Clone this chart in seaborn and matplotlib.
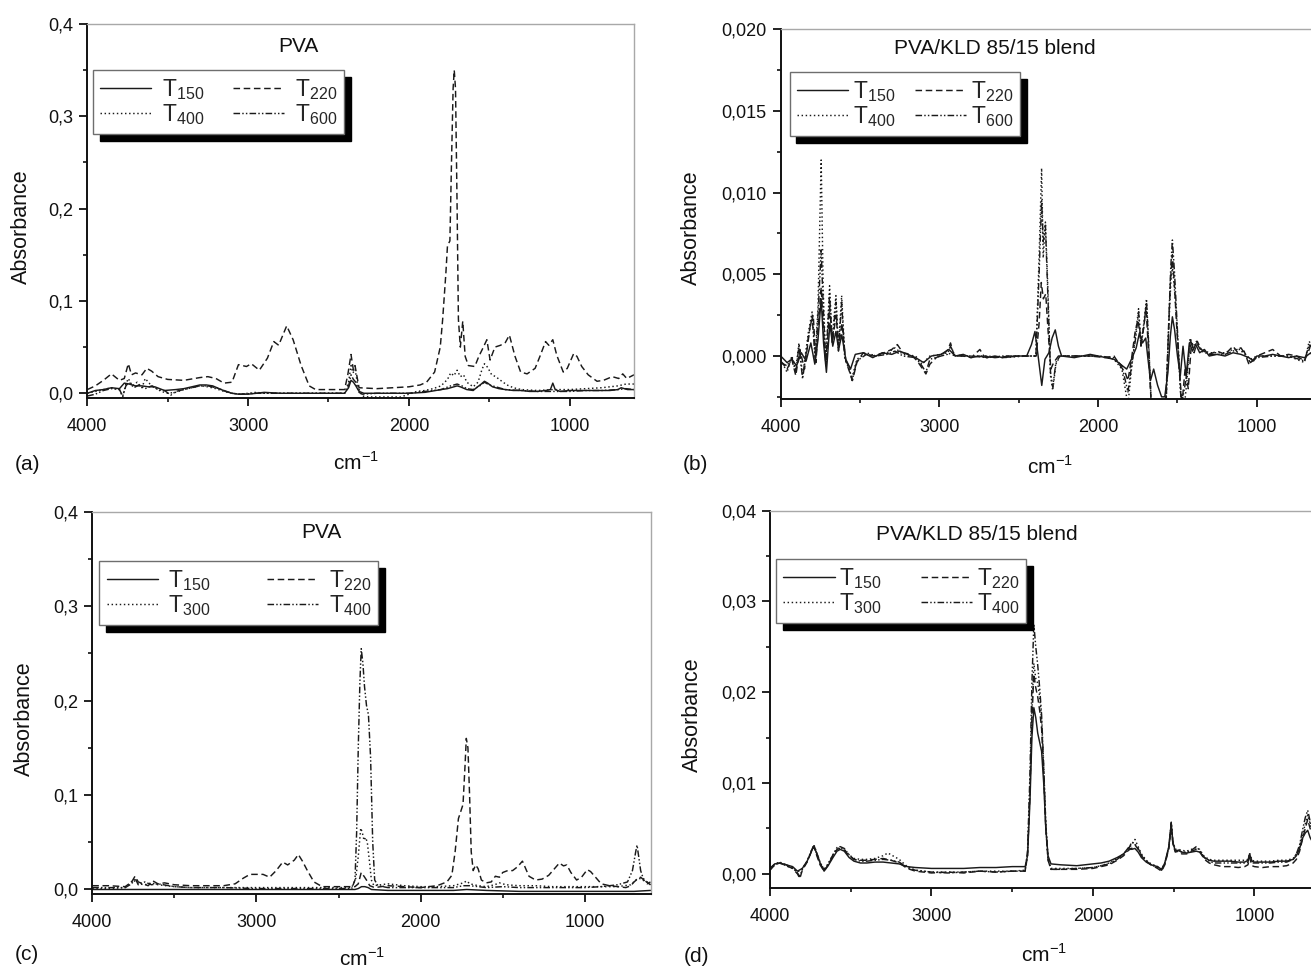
import matplotlib
matplotlib.use("Agg")
import matplotlib.pyplot as plt
import seaborn as sns
import pandas as pd
from matplotlib.ticker import FuncFormatter, MultipleLocator

# ---------------- data (cm-1, absorbance) ----------------
A_T150 = [(4000,0.000),(3950,0.003),(3900,0.004),(3850,0.006),(3800,0.005),(3770,0.011),(3740,0.010),(3700,0.008),(3660,0.008),(3620,0.007),(3580,0.007),(3520,0.003),(3450,0.004),(3400,0.005),(3350,0.007),(3300,0.009),(3260,0.009),(3220,0.008),(3180,0.005),(3140,0.002),(3100,0.000),(3060,-0.001),(3000,-0.001),(2950,0.000),(2900,0.001),(2800,0.000),(2600,0.000),(2400,0.000),(2375,0.006),(2360,0.014),(2345,0.012),(2330,0.008),(2310,0.002),(2280,0.000),(2200,0.000),(2000,0.000),(1900,0.001),(1800,0.004),(1760,0.005),(1720,0.007),(1700,0.008),(1680,0.007),(1640,0.004),(1600,0.003),(1580,0.006),(1550,0.010),(1530,0.013),(1510,0.011),(1480,0.007),(1440,0.005),(1400,0.004),(1350,0.003),(1300,0.003),(1250,0.002),(1200,0.002),(1150,0.003),(1120,0.004),(1105,0.011),(1090,0.004),(1060,0.002),(1000,0.003),(950,0.003),(900,0.003),(850,0.003),(800,0.003),(750,0.003),(700,0.004),(680,0.006),(660,0.005),(640,0.004),(620,0.004),(600,0.004)]
A_T220 = [(4000,0.004),(3950,0.008),(3900,0.014),(3850,0.021),(3800,0.014),(3770,0.016),(3745,0.032),(3725,0.020),(3700,0.022),(3660,0.020),(3630,0.027),(3600,0.024),(3560,0.018),(3500,0.015),(3400,0.014),(3300,0.017),(3250,0.018),(3200,0.016),(3150,0.011),(3100,0.012),(3060,0.031),(3010,0.029),(2980,0.032),(2930,0.025),(2880,0.038),(2840,0.056),(2810,0.052),(2760,0.073),(2720,0.058),(2670,0.030),(2620,0.008),(2580,0.004),(2400,0.004),(2380,0.020),(2360,0.042),(2345,0.025),(2335,0.030),(2310,0.006),(2200,0.005),(2000,0.007),(1930,0.009),(1890,0.012),(1840,0.023),(1805,0.050),(1790,0.080),(1770,0.130),(1760,0.160),(1745,0.165),(1735,0.250),(1725,0.330),(1718,0.350),(1710,0.330),(1700,0.200),(1692,0.080),(1680,0.050),(1665,0.078),(1650,0.040),(1630,0.030),(1590,0.029),(1565,0.040),(1545,0.047),(1515,0.058),(1495,0.036),(1465,0.050),(1430,0.052),(1400,0.055),(1375,0.063),(1340,0.040),(1305,0.023),(1265,0.021),(1215,0.027),(1185,0.040),(1150,0.056),(1130,0.052),(1105,0.058),(1080,0.041),(1040,0.023),(1015,0.027),(975,0.043),(955,0.040),(925,0.029),(885,0.020),(830,0.013),(790,0.014),(735,0.018),(695,0.016),(670,0.021),(645,0.016),(600,0.020)]
A_T400 = [(4000,0.000),(3950,0.002),(3900,0.004),(3850,0.006),(3800,0.004),(3780,-0.004),(3760,0.010),(3745,0.016),(3720,0.008),(3690,0.012),(3660,0.006),(3640,0.016),(3610,0.010),(3580,0.006),(3540,0.002),(3500,0.000),(3450,0.001),(3400,0.004),(3350,0.006),(3300,0.008),(3250,0.007),(3200,0.005),(3150,0.002),(3100,0.000),(3050,-0.001),(2950,0.001),(2900,0.000),(2600,0.000),(2400,0.000),(2375,0.012),(2360,0.030),(2348,0.022),(2335,0.026),(2315,0.006),(2290,-0.003),(2250,-0.004),(2150,-0.004),(2050,-0.004),(2000,-0.001),(1950,0.002),(1900,0.003),(1850,0.005),(1800,0.008),(1760,0.015),(1740,0.022),(1720,0.019),(1700,0.025),(1680,0.018),(1660,0.020),(1640,0.012),(1600,0.007),(1570,0.012),(1545,0.026),(1530,0.032),(1510,0.028),(1485,0.020),(1460,0.018),(1430,0.014),(1390,0.009),(1350,0.006),(1300,0.004),(1200,0.003),(1100,0.004),(1000,0.004),(900,0.005),(800,0.006),(700,0.008),(650,0.010),(600,0.010)]
A_T600 = [(4000,-0.003),(3950,-0.001),(3900,0.003),(3850,0.005),(3800,0.004),(3780,-0.003),(3760,0.008),(3740,0.012),(3710,0.006),(3680,0.009),(3640,0.005),(3600,0.008),(3560,0.004),(3520,0.003),(3480,-0.002),(3450,0.002),(3400,0.004),(3300,0.008),(3250,0.008),(3200,0.006),(3150,0.003),(3100,0.000),(3050,-0.001),(2950,0.000),(2600,0.000),(2400,0.000),(2375,0.008),(2360,0.020),(2345,0.015),(2330,0.012),(2310,0.001),(2290,-0.001),(2200,0.000),(2000,0.000),(1900,0.002),(1800,0.004),(1740,0.008),(1700,0.010),(1670,0.008),(1640,0.005),(1600,0.004),(1560,0.008),(1530,0.012),(1500,0.009),(1460,0.007),(1400,0.004),(1300,0.003),(1200,0.002),(1100,0.002),(1000,0.002),(900,0.003),(800,0.003),(700,0.004),(650,0.005),(600,0.004)]

B_T150 = [(4000,0.0),(3960,-0.0004),(3930,-0.0002),(3900,-0.0006),(3870,0.0002),(3840,-0.0003),(3810,0.0008),(3785,-0.0005),(3765,0.0010),(3745,0.0035),(3730,0.0008),(3712,-0.0010),(3690,0.0020),(3672,0.0006),(3652,0.0015),(3635,0.0004),(3615,0.0013),(3590,-0.0002),(3560,-0.0008),(3530,0.0001),(3480,0.0002),(3420,-0.0001),(3360,0.0002),(3300,0.0001),(3250,0.0003),(3200,0.0001),(3150,-0.0001),(3100,-0.0004),(3050,0.0000),(2990,0.0001),(2940,0.0004),(2900,0.0000),(2850,0.0001),(2800,-0.0001),(2750,0.0000),(2700,-0.0001),(2650,0.0000),(2600,-0.0001),(2500,0.0000),(2450,0.0000),(2420,0.0007),(2398,0.0015),(2378,0.0000),(2355,-0.0018),(2335,-0.0002),(2310,0.0002),(2290,0.0011),(2270,0.0016),(2250,0.0006),(2230,0.0000),(2150,-0.0001),(2100,0.0000),(2050,0.0001),(2000,0.0000),(1950,-0.0001),(1900,-0.0002),(1860,-0.0005),(1820,-0.0008),(1790,-0.0002),(1760,0.0005),(1740,0.0014),(1720,0.0008),(1700,0.0011),(1688,0.0000),(1670,-0.0015),(1650,-0.0008),(1625,-0.0018),(1600,-0.0025),(1580,-0.0025),(1560,-0.0010),(1545,0.0012),(1532,0.0024),(1518,0.0016),(1500,0.0000),(1482,-0.0012),(1465,0.0006),(1445,-0.0012),(1425,0.0008),(1405,0.0003),(1385,0.0007),(1360,0.0002),(1330,0.0004),(1300,0.0000),(1250,0.0001),(1200,0.0000),(1150,0.0002),(1100,0.0001),(1050,-0.0001),(1020,-0.0003),(1000,0.0000),(950,0.0000),(900,0.0001),(850,0.0000),(800,-0.0001),(750,0.0000),(700,-0.0001),(660,0.0002),(640,-0.0002),(620,0.0000),(600,0.0000)]
B_T220 = [(4000,-0.0003),(3960,-0.0008),(3930,-0.0002),(3905,-0.0012),(3880,0.0004),(3850,-0.0008),(3815,0.0018),(3795,0.0025),(3778,-0.0004),(3762,0.0020),(3745,0.0042),(3730,0.0015),(3714,-0.0006),(3692,0.0030),(3674,0.0008),(3652,0.0025),(3634,0.0006),(3614,0.0020),(3590,-0.0003),(3565,-0.0010),(3548,-0.0015),(3520,-0.0004),(3480,0.0002),(3420,0.0000),(3350,0.0002),(3300,0.0004),(3265,0.0007),(3230,0.0002),(3180,0.0001),(3140,-0.0003),(3105,-0.0008),(3085,-0.0011),(3060,-0.0005),(3020,-0.0001),(2980,0.0001),(2945,0.0004),(2930,0.0008),(2910,0.0001),(2850,0.0000),(2800,-0.0001),(2745,0.0004),(2720,0.0000),(2650,-0.0001),(2550,0.0000),(2450,0.0000),(2390,0.0000),(2372,0.0020),(2358,0.0045),(2345,0.0035),(2330,0.0038),(2315,0.0015),(2298,-0.0008),(2280,-0.0004),(2250,0.0000),(2150,0.0000),(2050,0.0000),(1950,-0.0001),(1900,0.0000),(1860,-0.0006),(1830,-0.0010),(1812,-0.0015),(1790,-0.0002),(1765,0.0016),(1748,0.0022),(1730,0.0008),(1712,0.0018),(1698,0.0030),(1682,0.0002),(1665,-0.0030),(1620,-0.0030),(1575,-0.0030),(1558,0.0010),(1545,0.0045),(1532,0.0062),(1520,0.0045),(1505,0.0018),(1490,-0.0005),(1472,-0.0030),(1452,-0.0008),(1432,-0.0020),(1412,0.0008),(1395,0.0002),(1375,0.0009),(1350,0.0004),(1300,0.0001),(1250,0.0003),(1200,0.0001),(1150,0.0006),(1120,0.0002),(1080,0.0003),(1050,-0.0005),(1020,-0.0002),(1000,0.0000),(950,0.0002),(900,0.0004),(850,0.0000),(800,0.0001),(750,0.0000),(700,-0.0003),(670,0.0004),(660,0.0008),(640,-0.0003),(620,0.0000),(600,0.0001)]
B_T400 = [(4000,-0.0002),(3960,-0.0010),(3930,0.0000),(3905,-0.0008),(3885,0.0008),(3862,-0.0012),(3825,0.0015),(3802,0.0027),(3782,0.0000),(3765,0.0030),(3745,0.0120),(3732,0.0040),(3716,-0.0006),(3692,0.0043),(3676,0.0010),(3652,0.0037),(3636,0.0005),(3616,0.0037),(3596,0.0000),(3572,-0.0008),(3550,-0.0013),(3520,-0.0002),(3460,0.0002),(3400,0.0000),(3330,0.0002),(3280,0.0005),(3230,0.0001),(3150,0.0000),(3110,-0.0005),(3060,0.0000),(2990,0.0001),(2950,0.0002),(2900,0.0000),(2800,0.0000),(2700,0.0000),(2600,-0.0001),(2450,0.0000),(2392,0.0000),(2372,0.0060),(2356,0.0115),(2346,0.0060),(2332,0.0082),(2316,0.0040),(2300,-0.0012),(2286,-0.0021),(2266,-0.0005),(2240,0.0000),(2100,0.0000),(2000,0.0000),(1900,-0.0002),(1850,-0.0008),(1812,-0.0030),(1792,-0.0010),(1762,0.0015),(1745,0.0029),(1730,0.0008),(1712,0.0020),(1695,0.0035),(1680,0.0005),(1665,-0.0030),(1600,-0.0030),(1572,-0.0030),(1556,0.0015),(1542,0.0045),(1532,0.0055),(1518,0.0040),(1505,0.0022),(1490,-0.0005),(1476,-0.0030),(1456,-0.0030),(1440,-0.0015),(1420,0.0011),(1400,0.0006),(1380,0.0009),(1350,0.0004),(1300,0.0002),(1200,0.0002),(1150,0.0004),(1100,0.0004),(1040,-0.0002),(1000,0.0000),(900,0.0000),(800,0.0000),(700,-0.0004),(670,0.0009),(650,0.0005),(620,0.0000),(600,0.0000)]
B_T600 = [(4000,-0.0004),(3960,-0.0006),(3930,-0.0001),(3905,-0.0010),(3885,0.0006),(3862,-0.0014),(3825,0.0012),(3802,0.0024),(3782,-0.0003),(3765,0.0025),(3745,0.0065),(3732,0.0030),(3716,-0.0004),(3692,0.0038),(3676,0.0008),(3652,0.0033),(3636,0.0003),(3616,0.0033),(3596,-0.0002),(3572,-0.0006),(3550,-0.0015),(3520,-0.0003),(3460,0.0001),(3400,0.0000),(3330,0.0001),(3280,0.0003),(3230,0.0000),(3150,-0.0001),(3110,-0.0006),(3085,-0.0010),(3060,-0.0002),(2990,0.0000),(2950,0.0001),(2930,0.0006),(2900,0.0000),(2800,0.0000),(2700,-0.0001),(2600,0.0000),(2450,0.0000),(2392,0.0000),(2372,0.0050),(2356,0.0095),(2346,0.0070),(2332,0.0080),(2316,0.0035),(2300,-0.0010),(2286,-0.0019),(2266,-0.0004),(2240,0.0000),(2100,0.0000),(2000,0.0000),(1900,-0.0001),(1850,-0.0006),(1812,-0.0022),(1792,-0.0008),(1762,0.0012),(1745,0.0027),(1730,0.0006),(1712,0.0018),(1695,0.0033),(1680,0.0004),(1665,-0.0030),(1600,-0.0030),(1572,-0.0030),(1556,0.0018),(1542,0.0055),(1532,0.0071),(1518,0.0050),(1505,0.0025),(1490,-0.0004),(1476,-0.0030),(1456,-0.0020),(1440,-0.0010),(1420,0.0010),(1400,0.0005),(1380,0.0008),(1350,0.0003),(1300,0.0001),(1200,0.0001),(1150,0.0003),(1100,0.0005),(1040,-0.0004),(1000,-0.0001),(900,0.0000),(800,0.0000),(700,-0.0003),(670,0.0007),(650,0.0004),(620,0.0000),(600,0.0000)]

C_T150 = [(4000,0.000),(3800,0.000),(3600,0.000),(3400,0.000),(3200,0.000),(3000,0.000),(2800,0.000),(2600,0.000),(2400,0.000),(2380,0.001),(2360,0.003),(2340,0.003),(2320,0.002),(2300,0.000),(2200,-0.001),(2000,-0.001),(1800,-0.001),(1720,0.000),(1600,-0.001),(1400,-0.002),(1200,-0.002),(1000,-0.002),(800,-0.002),(700,-0.002),(600,-0.001)]
C_T220 = [(4000,0.004),(3900,0.004),(3800,0.003),(3760,0.008),(3740,0.014),(3720,0.008),(3690,0.006),(3660,0.004),(3630,0.009),(3600,0.006),(3560,0.007),(3500,0.005),(3400,0.004),(3300,0.004),(3200,0.004),(3130,0.006),(3080,0.012),(3040,0.016),(3000,0.016),(2960,0.016),(2920,0.013),(2880,0.020),(2840,0.029),(2810,0.026),(2770,0.031),(2745,0.037),(2720,0.030),(2690,0.020),(2650,0.008),(2600,0.003),(2500,0.003),(2400,0.003),(2380,0.006),(2362,0.018),(2345,0.014),(2330,0.010),(2310,0.004),(2280,0.002),(2200,0.004),(2100,0.003),(2000,0.002),(1900,0.004),(1840,0.008),(1810,0.015),(1790,0.040),(1770,0.075),(1755,0.083),(1742,0.090),(1730,0.130),(1722,0.160),(1712,0.150),(1702,0.100),(1692,0.040),(1680,0.020),(1665,0.026),(1650,0.022),(1630,0.010),(1600,0.007),(1570,0.008),(1545,0.014),(1520,0.013),(1500,0.018),(1470,0.020),(1440,0.020),(1410,0.024),(1380,0.030),(1360,0.022),(1340,0.014),(1300,0.010),(1260,0.011),(1220,0.015),(1185,0.022),(1155,0.028),(1130,0.025),(1110,0.026),(1085,0.018),(1050,0.010),(1020,0.013),(985,0.021),(965,0.019),(930,0.012),(900,0.006),(850,0.004),(800,0.003),(750,0.002),(720,0.004),(700,0.008),(680,0.011),(660,0.013),(640,0.010),(620,0.006),(600,0.008)]
C_T300 = [(4000,0.001),(3900,0.001),(3800,0.002),(3750,0.010),(3720,0.006),(3680,0.005),(3640,0.007),(3600,0.005),(3500,0.003),(3400,0.002),(3200,0.002),(3000,0.002),(2800,0.002),(2600,0.002),(2420,0.002),(2395,0.012),(2380,0.035),(2365,0.065),(2355,0.060),(2345,0.052),(2335,0.055),(2325,0.050),(2312,0.030),(2300,0.010),(2285,0.004),(2200,0.006),(2100,0.004),(2000,0.003),(1900,0.003),(1800,0.004),(1760,0.006),(1740,0.007),(1720,0.009),(1700,0.006),(1650,0.004),(1600,0.003),(1550,0.005),(1520,0.007),(1480,0.005),(1400,0.004),(1300,0.004),(1200,0.003),(1100,0.003),(1000,0.003),(900,0.003),(800,0.003),(720,0.005),(690,0.010),(670,0.012),(650,0.010),(620,0.008),(600,0.005)]
C_T400 = [(4000,0.002),(3900,0.002),(3800,0.002),(3760,0.006),(3740,0.012),(3720,0.005),(3680,0.008),(3640,0.005),(3600,0.006),(3500,0.003),(3400,0.002),(3200,0.002),(3000,0.001),(2800,0.001),(2600,0.001),(2420,0.001),(2400,0.010),(2390,0.060),(2380,0.150),(2370,0.220),(2362,0.255),(2352,0.240),(2342,0.215),(2330,0.195),(2318,0.185),(2305,0.140),(2292,0.050),(2280,0.010),(2260,0.004),(2200,0.002),(2100,0.002),(2000,0.002),(1900,0.002),(1800,0.002),(1740,0.004),(1700,0.004),(1600,0.002),(1500,0.003),(1400,0.002),(1200,0.002),(1000,0.002),(900,0.003),(800,0.005),(740,0.008),(710,0.020),(690,0.040),(682,0.047),(672,0.035),(660,0.020),(645,0.012),(625,0.008),(600,0.005)]

D_T150 = [(4000,0.0006),(3970,0.0011),(3940,0.0012),(3900,0.0010),(3860,0.0008),(3830,0.0003),(3800,0.0006),(3770,0.0014),(3745,0.0024),(3728,0.0031),(3710,0.0022),(3690,0.0012),(3665,0.0003),(3640,0.0009),(3610,0.0018),(3585,0.0025),(3565,0.0027),(3540,0.0025),(3510,0.0018),(3480,0.0014),(3440,0.0012),(3400,0.0012),(3350,0.0013),(3300,0.0013),(3250,0.0012),(3200,0.0011),(3150,0.0008),(3100,0.0007),(3000,0.0006),(2900,0.0006),(2800,0.0006),(2700,0.0007),(2600,0.0007),(2500,0.0008),(2420,0.0008),(2405,0.0020),(2390,0.0080),(2378,0.0150),(2366,0.0183),(2354,0.0172),(2342,0.0155),(2330,0.0145),(2318,0.0135),(2305,0.0100),(2292,0.0050),(2278,0.0020),(2260,0.0011),(2200,0.0010),(2100,0.0009),(2000,0.0011),(1950,0.0012),(1900,0.0014),(1850,0.0018),(1810,0.0022),(1780,0.0029),(1760,0.0027),(1740,0.0028),(1720,0.0024),(1700,0.0018),(1670,0.0013),(1640,0.0010),(1600,0.0008),(1575,0.0005),(1555,0.0012),(1530,0.0030),(1515,0.0055),(1505,0.0035),(1490,0.0025),(1470,0.0026),(1450,0.0024),(1420,0.0023),(1390,0.0024),(1360,0.0025),(1340,0.0024),(1310,0.0018),(1280,0.0015),(1250,0.0014),(1200,0.0014),(1150,0.0014),(1100,0.0013),(1060,0.0013),(1040,0.0015),(1030,0.0022),(1015,0.0014),(1000,0.0013),(950,0.0013),(900,0.0013),(850,0.0014),(800,0.0014),(760,0.0016),(740,0.0020),(720,0.0028),(700,0.0040),(685,0.0045),(670,0.0048),(655,0.0040),(640,0.0035),(620,0.0030),(600,0.0028)]
D_T220 = [(4000,0.0004),(3970,0.0010),(3940,0.0012),(3900,0.0009),(3860,0.0006),(3830,0.0000),(3815,-0.0005),(3800,0.0004),(3770,0.0013),(3745,0.0024),(3728,0.0030),(3710,0.0020),(3690,0.0010),(3665,0.0003),(3640,0.0010),(3610,0.0020),(3585,0.0027),(3565,0.0028),(3540,0.0026),(3510,0.0020),(3480,0.0016),(3440,0.0015),(3400,0.0015),(3350,0.0016),(3300,0.0017),(3250,0.0015),(3200,0.0012),(3150,0.0006),(3100,0.0003),(3000,0.0001),(2900,0.0002),(2800,0.0001),(2700,0.0003),(2600,0.0002),(2500,0.0003),(2420,0.0003),(2405,0.0020),(2390,0.0090),(2378,0.0170),(2366,0.0220),(2354,0.0205),(2342,0.0195),(2330,0.0180),(2318,0.0160),(2305,0.0110),(2292,0.0050),(2278,0.0015),(2260,0.0005),(2200,0.0005),(2100,0.0005),(2000,0.0006),(1950,0.0008),(1900,0.0010),(1850,0.0015),(1810,0.0020),(1780,0.0026),(1760,0.0028),(1740,0.0032),(1720,0.0027),(1700,0.0020),(1670,0.0014),(1640,0.0010),(1600,0.0006),(1575,0.0003),(1555,0.0010),(1530,0.0028),(1515,0.0055),(1505,0.0033),(1490,0.0024),(1470,0.0025),(1450,0.0022),(1420,0.0022),(1390,0.0025),(1360,0.0027),(1340,0.0025),(1310,0.0016),(1280,0.0012),(1250,0.0010),(1200,0.0008),(1150,0.0008),(1100,0.0007),(1060,0.0008),(1040,0.0010),(1030,0.0018),(1015,0.0009),(1000,0.0008),(950,0.0007),(900,0.0008),(850,0.0008),(800,0.0009),(760,0.0012),(740,0.0016),(720,0.0025),(700,0.0040),(685,0.0050),(670,0.0060),(655,0.0050),(640,0.0042),(620,0.0035),(600,0.0030)]
D_T300 = [(4000,0.0005),(3970,0.0010),(3940,0.0012),(3900,0.0009),(3860,0.0006),(3830,0.0002),(3800,0.0006),(3770,0.0014),(3745,0.0025),(3728,0.0031),(3710,0.0022),(3690,0.0012),(3665,0.0005),(3640,0.0011),(3610,0.0021),(3585,0.0028),(3565,0.0029),(3540,0.0027),(3510,0.0021),(3480,0.0017),(3440,0.0016),(3400,0.0016),(3350,0.0017),(3300,0.0020),(3270,0.0023),(3240,0.0020),(3200,0.0016),(3150,0.0008),(3100,0.0004),(3000,0.0002),(2900,0.0002),(2800,0.0002),(2700,0.0003),(2600,0.0003),(2500,0.0003),(2420,0.0004),(2405,0.0022),(2390,0.0095),(2378,0.0180),(2366,0.0232),(2354,0.0215),(2342,0.0210),(2330,0.0195),(2318,0.0170),(2305,0.0115),(2292,0.0055),(2278,0.0016),(2260,0.0006),(2200,0.0006),(2100,0.0006),(2000,0.0007),(1950,0.0009),(1900,0.0012),(1850,0.0017),(1810,0.0022),(1780,0.0028),(1760,0.0032),(1740,0.0038),(1720,0.0030),(1700,0.0022),(1670,0.0015),(1640,0.0011),(1600,0.0008),(1575,0.0005),(1555,0.0012),(1530,0.0030),(1515,0.0057),(1505,0.0036),(1490,0.0027),(1470,0.0027),(1450,0.0026),(1420,0.0025),(1390,0.0027),(1360,0.0029),(1340,0.0027),(1310,0.0019),(1280,0.0016),(1250,0.0015),(1200,0.0015),(1150,0.0015),(1100,0.0015),(1060,0.0015),(1040,0.0016),(1030,0.0023),(1015,0.0015),(1000,0.0014),(950,0.0014),(900,0.0014),(850,0.0015),(800,0.0015),(760,0.0017),(740,0.0022),(720,0.0030),(700,0.0045),(685,0.0055),(670,0.0065),(655,0.0055),(640,0.0045),(620,0.0038),(600,0.0032)]
D_T400 = [(4000,0.0006),(3970,0.0011),(3940,0.0013),(3900,0.0010),(3860,0.0007),(3830,0.0001),(3815,-0.0003),(3800,0.0005),(3770,0.0014),(3745,0.0025),(3728,0.0032),(3710,0.0023),(3690,0.0013),(3665,0.0004),(3640,0.0011),(3610,0.0021),(3585,0.0029),(3565,0.0030),(3540,0.0028),(3510,0.0021),(3480,0.0016),(3440,0.0014),(3400,0.0014),(3350,0.0015),(3300,0.0016),(3250,0.0015),(3200,0.0013),(3150,0.0007),(3100,0.0004),(3000,0.0002),(2900,0.0001),(2800,0.0002),(2700,0.0003),(2600,0.0002),(2500,0.0003),(2420,0.0003),(2405,0.0025),(2390,0.0110),(2378,0.0210),(2366,0.0275),(2354,0.0250),(2342,0.0230),(2330,0.0205),(2318,0.0175),(2305,0.0120),(2292,0.0055),(2278,0.0016),(2260,0.0005),(2200,0.0005),(2100,0.0006),(2000,0.0007),(1950,0.0009),(1900,0.0011),(1850,0.0016),(1810,0.0022),(1780,0.0027),(1760,0.0035),(1740,0.0033),(1720,0.0028),(1700,0.0021),(1670,0.0014),(1640,0.0010),(1600,0.0007),(1575,0.0004),(1555,0.0011),(1530,0.0029),(1515,0.0056),(1505,0.0034),(1490,0.0025),(1470,0.0026),(1450,0.0024),(1420,0.0024),(1390,0.0026),(1360,0.0030),(1340,0.0026),(1310,0.0018),(1280,0.0014),(1250,0.0012),(1200,0.0012),(1150,0.0012),(1100,0.0012),(1060,0.0012),(1040,0.0013),(1030,0.0020),(1015,0.0012),(1000,0.0012),(950,0.0012),(900,0.0012),(850,0.0013),(800,0.0013),(760,0.0016),(740,0.0022),(720,0.0032),(700,0.0050),(685,0.0062),(670,0.0070),(655,0.0058),(640,0.0048),(620,0.0040),(600,0.0035)]

LABELS_AB = ["150", "220", "400", "600"]
LABELS_CD = ["150", "220", "300", "400"]
TITLES = ["PVA", "PVA/KLD 85/15 blend", "PVA", "PVA/KLD 85/15 blend"]
LETTERS = ["(a)", "(b)", "(c)", "(d)"]
X_TICKS = [4000, 3000, 2000, 1000]

# ---------------- style ----------------
W, H = 1311, 968
LINE = "#1a1a1a"
DASHES = ["-", (0, (4.5, 2.5)), (0, (1, 1.8)), (0, (4.5, 1.5, 1, 1.5, 1, 1.5))]

sns.set_style("ticks")
plt.rcParams["font.family"] = ["Liberation Sans", "DejaVu Sans"]
plt.rcParams["mathtext.fontset"] = "custom"
plt.rcParams["mathtext.rm"] = "Liberation Sans"

fig = plt.figure(figsize=(W / 100, H / 100), dpi=100)

# pixel geometry: left, right, top, bottom of each axes
panels = [
    dict(series=[A_T150, A_T220, A_T400, A_T600], labels=LABELS_AB, box=(87.3, 634.0, 24.0, 397.7),
         ylim=(-0.0048, 0.4), major=0.1, minor=0.05, dec=1,
         leg=(92.6, 70), tp=0.45, cs=1.25,
         title=(298, 47), letter=(28, 465), xlab=(356, 463), ylab=(21, 227)),
    dict(series=[B_T150, B_T220, B_T400, B_T600], labels=LABELS_AB, box=(780.7, 1320.3, 29.3, 399.3),
         ylim=(-0.00265, 0.020), major=0.005, minor=0.0025, dec=3,
         leg=(789.5, 71.7), tp=0.2, cs=0.85,
         title=(995, 48), letter=(695, 465), xlab=(1050, 466), ylab=(691, 228)),
    dict(series=[C_T150, C_T220, C_T300, C_T400], labels=LABELS_CD, box=(92.3, 650.5, 511.7, 894.3),
         ylim=(-0.0051, 0.4), major=0.1, minor=0.05, dec=1,
         leg=(99.2, 560.8), tp=0.45, cs=2.45,
         title=(321, 533), letter=(27, 955), xlab=(362, 958), ylab=(24, 719)),
    dict(series=[D_T150, D_T220, D_T300, D_T400], labels=LABELS_CD, box=(770.0, 1319.0, 510.7, 887.5),
         ylim=(-0.0015, 0.04), major=0.01, minor=0.005, dec=2,
         leg=(776, 558.7), tp=0.2, cs=1.7,
         title=(977, 535), letter=(697, 956), xlab=(1044, 955), ylab=(692, 715)),
]


def fx(px):
    return px / W


def fy(py):
    return 1 - py / H


for i, p in enumerate(panels):
    l, r, t, b = p["box"]
    ax = fig.add_axes([fx(l), fy(b), (r - l) / W, (b - t) / H])
    for k, (data, lab) in enumerate(zip(p["series"], p["labels"])):
        df = pd.DataFrame(data, columns=["cm", "absorbance"])
        sns.lineplot(data=df, x="cm", y="absorbance", ax=ax, color=LINE, lw=1.05,
                     linestyle=DASHES[k], estimator=None, sort=False,
                     label=r"$\mathregular{T_{%s}}$" % lab)
    ax.set_xlim(4000, 600)
    ax.set_ylim(*p["ylim"])
    ax.set_xlabel("")
    ax.set_ylabel("")
    ax.set_xticks(X_TICKS)
    ax.xaxis.set_minor_locator(MultipleLocator(500))
    ax.yaxis.set_major_locator(MultipleLocator(p["major"]))
    ax.yaxis.set_minor_locator(MultipleLocator(p["minor"]))
    d = p["dec"]
    ax.yaxis.set_major_formatter(FuncFormatter(lambda v, pos, d=d: f"{v:.{d}f}".replace(".", ",").replace("-", "")))
    ax.tick_params(which="major", direction="out", length=6, width=1.3, labelsize=13, colors="#111111")
    ax.tick_params(axis="x", which="major", pad=8.5)
    ax.tick_params(axis="y", which="major", pad=4)
    ax.tick_params(which="minor", direction="out", length=3, width=1.2, colors="#111111")
    for s in ["left", "bottom"]:
        ax.spines[s].set_color("#111111")
        ax.spines[s].set_linewidth(1.4)
    for s in ["top", "right"]:
        ax.spines[s].set_color("#a8a8a8")
        ax.spines[s].set_linewidth(1.0)

    h = ax.get_lines()
    handles = [h[0], h[2], h[1], h[3]]
    labels = [x.get_label() for x in handles]
    leg = ax.legend(handles, labels, ncol=2, loc="upper left",
                    bbox_to_anchor=(fx(p["leg"][0]), fy(p["leg"][1])), bbox_transform=fig.transFigure,
                    borderaxespad=0, fontsize=16.5, frameon=True, fancybox=False,
                    handlelength=2.25, handletextpad=p["tp"], columnspacing=p["cs"],
                    labelspacing=0.0, borderpad=0.32,
                    shadow={"ox": 5, "oy": -5, "facecolor": "black", "edgecolor": "black", "alpha": 1.0})
    frame = leg.get_frame()
    frame.set_edgecolor("#6e6e6e")
    frame.set_linewidth(1.0)
    frame.set_facecolor("white")
    frame.set_alpha(1.0)

    fig.text(fx(p["title"][0]), fy(p["title"][1]), TITLES[i], ha="center", va="center", fontsize=15, color="#111111")
    fig.text(fx(p["letter"][0]), fy(p["letter"][1]), LETTERS[i], ha="center", va="center", fontsize=15, color="#111111")
    fig.text(fx(p["xlab"][0]), fy(p["xlab"][1]), r"cm$^{\mathregular{-1}}$", ha="center", va="center", fontsize=15, color="#111111")
    fig.text(fx(p["ylab"][0]), fy(p["ylab"][1]), "Absorbance", ha="center", va="center", rotation=90, fontsize=15.5, color="#111111")

fig.savefig("out.png", dpi=100)
